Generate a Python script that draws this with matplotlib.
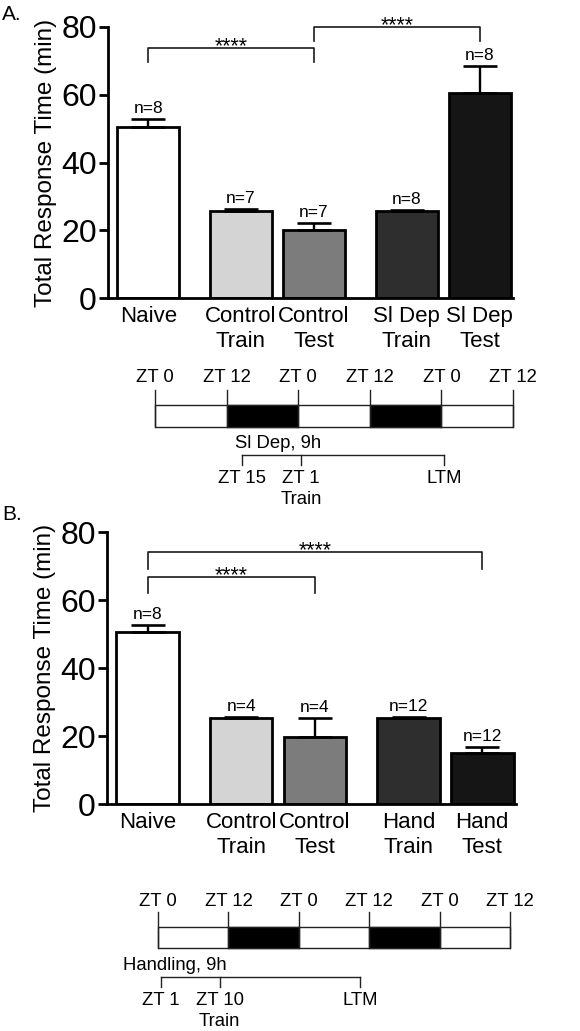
import matplotlib
matplotlib.use("Agg")
import matplotlib.pyplot as plt
from matplotlib.patches import Rectangle

plt.rcParams['font.family'] = ['Liberation Sans', 'DejaVu Sans']

# ---- data ----
labels_a = ["Naive", "Control\nTrain", "Control\nTest", "Sl Dep\nTrain", "Sl Dep\nTest"]
means_a = [50.5, 25.8, 20.2, 25.8, 60.6]
errs_a = [2.2, 0.4, 1.8, 0.2, 7.9]
n_a = ["n=8", "n=7", "n=7", "n=8", "n=8"]
sig_a = [(0, 2, 73.8, 69.7), (2, 4, 80.0, 75.9)]   # (bar i, bar j, height, foot)

labels_b = ["Naive", "Control\nTrain", "Control\nTest", "Hand\nTrain", "Hand\nTest"]
means_b = [50.6, 25.4, 19.7, 25.3, 15.0]
errs_b = [2.0, 0.2, 5.6, 0.3, 1.8]
n_b = ["n=8", "n=4", "n=4", "n=12", "n=12"]
sig_b = [(0, 2, 66.8, 62.0), (0, 4, 74.1, 69.1)]

pos = [0, 1.5, 2.68, 4.18, 5.36]
colors = ["#ffffff", "#d4d4d4", "#7c7c7c", "#2e2e2e", "#151515"]

# timeline data (hours)
zt_hours = [0, 12, 24, 36, 48, 60]
zt_labels = ["ZT 0", "ZT 12", "ZT 0", "ZT 12", "ZT 0", "ZT 12"]
dark = [(12, 24), (36, 48)]
proto_a_hours = [14.5, 24.5, 48.5]
proto_a_labels = ["ZT 15", "ZT 1\nTrain", "LTM"]
proto_a_title = "Sl Dep, 9h"
proto_b_hours = [0.5, 10.5, 34.5]
proto_b_labels = ["ZT 1", "ZT 10\nTrain", "LTM"]
proto_b_title = "Handling, 9h"

W, H = 580, 1031
fig = plt.figure(figsize=(W / 100, H / 100), dpi=100)


def px_axes(x0, y0, x1, y1):
    return fig.add_axes([x0 / W, 1 - y1 / H, (x1 - x0) / W, (y1 - y0) / H])


def bar_panel(ax, labels, means, errs, ns, sigs):
    ax.bar(pos, means, width=1.0, color=colors, edgecolor="black", linewidth=2, zorder=2)
    ax.errorbar(pos, means, yerr=[[0] * len(errs), errs], fmt="none", ecolor="black",
                elinewidth=1.7, capsize=12.5, capthick=1.9, zorder=3)
    for x, m, e, t in zip(pos, means, errs, ns):
        ax.text(x, m + e + 1.8, t, ha="center", va="baseline", fontsize=12.5)
    for i, j, h, foot in sigs:
        ax.plot([pos[i], pos[i], pos[j], pos[j]], [foot, h, h, foot], color="#1a1a1a",
                lw=1.2, clip_on=False)
        ax.text((pos[i] + pos[j]) / 2, h - 1.3, "****", ha="center", va="baseline",
                fontsize=15.5, clip_on=False)
    ax.set_xlim(-0.65, 5.9)
    ax.set_ylim(0, 80)
    ax.set_yticks([0, 20, 40, 60, 80])
    ax.set_xticks(pos)
    ax.set_xticklabels(labels, fontsize=16, linespacing=1.25)
    ax.tick_params(axis="x", length=0, pad=6)
    ax.tick_params(axis="y", labelsize=23, length=6.5, width=2, pad=1.5)
    for s in ["top", "right"]:
        ax.spines[s].set_visible(False)
    for s in ["left", "bottom"]:
        ax.spines[s].set_linewidth(2)
    ax.set_ylabel("Total Response Time (min)", fontsize=17.5, labelpad=3)


def timeline(ax, title, title_x, p_hours, p_labels, y_lab, y_tick, y_box, y_ttl, y_br, y_plab):
    ax.set_xlim(0, 60)
    ax.set_ylim(100, 0)
    ax.axis("off")
    ax.add_patch(Rectangle((zt_hours[0], y_box[0]), zt_hours[-1] - zt_hours[0],
                           y_box[1] - y_box[0], facecolor="white", edgecolor="#222222",
                           lw=1.0, clip_on=False))
    for a, b in dark:
        ax.add_patch(Rectangle((a, y_box[0]), b - a, y_box[1] - y_box[0],
                               facecolor="black", edgecolor="#222222", lw=1.0, clip_on=False))
    for h, t in zip(zt_hours, zt_labels):
        ax.plot([h, h], [y_tick, y_box[1]], color="#222222", lw=1.0, clip_on=False)
        ax.text(h, y_lab, t, ha="center", va="center", fontsize=13.3)
    ax.text(title_x, y_ttl, title, ha="left", va="center", fontsize=13.3)
    ax.plot([p_hours[0], p_hours[-1]], [y_br, y_br], color="#222222", lw=1.0, clip_on=False)
    for h, t in zip(p_hours, p_labels):
        ax.plot([h, h], [y_br, y_br + 10], color="#222222", lw=1.0, clip_on=False)
        ax.text(h, y_br + 15, t, ha="center", va="top", fontsize=13.3, linespacing=1.3)


# panel A
ax_a = px_axes(108, 27, 513, 298)
bar_panel(ax_a, labels_a, means_a, errs_a, n_a, sig_a)
fig.text(2 / W, 1 - 5 / H, "A.", fontsize=15, va="top", ha="left")

tl_a = px_axes(155, 365, 513, 465)
timeline(tl_a, proto_a_title, 13.4, proto_a_hours, proto_a_labels,
         13, 25, (40, 62), 78, 90, 105)

# panel B
ax_b = px_axes(107, 532, 516, 804)
bar_panel(ax_b, labels_b, means_b, errs_b, n_b, sig_b)
fig.text(2 / W, 1 - 505 / H, "B.", fontsize=15, va="top", ha="left")

tl_b = px_axes(158, 890, 510, 990)
timeline(tl_b, proto_b_title, -6.0, proto_b_hours, proto_b_labels,
         12, 22, (37, 58), 75, 87, 103)

fig.savefig("out.png", dpi=100)
